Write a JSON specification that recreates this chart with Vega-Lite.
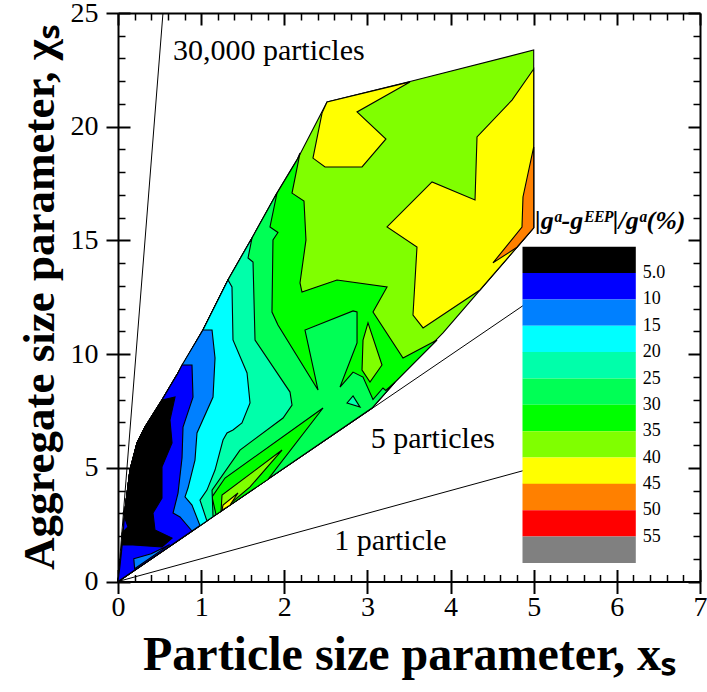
{
  "$schema": "https://vega.github.io/schema/vega-lite/v6.json",
  "width": 582,
  "height": 568.5,
  "autosize": {"type": "none"},
  "padding": {"left": 118, "top": 13, "right": 7, "bottom": 110.5},
  "background": "white",
  "config": {"view": {"stroke": null}, "font": "Liberation Serif"},
  "datasets": {
    "lines": [
      {"ln": "a", "x": 0, "y": 0}, {"ln": "a", "x": 0.541, "y": 25},
      {"ln": "b", "x": 0, "y": 0}, {"ln": "b", "x": 4.871, "y": 12.13},
      {"ln": "c", "x": 0, "y": 0}, {"ln": "c", "x": 4.871, "y": 4.871}
    ],
    "textA": [{"t": "30,000 particles", "x": 0.662, "y": 22.93}],
    "textB": [{"t": "5 particles", "x": 3.04, "y": 5.87}, {"t": "1 particle", "x": 2.6, "y": 1.385}],
    "legendTitle": [{"t": "|gᵃ-gᴱᴱᴾ|/gᵃ(%)", "x": 5.016, "y": 15.5}],
    "polysA": [
      {"p":"p01","v":35,"i":0,"x":0,"y":0},{"p":"p01","v":35,"i":1,"x":0.024,"y":0.68},{"p":"p01","v":35,"i":2,"x":0.048,"y":1.52},{"p":"p01","v":35,"i":3,"x":0.084,"y":3.14},{"p":"p01","v":35,"i":4,"x":0.144,"y":4.9},{"p":"p01","v":35,"i":5,"x":0.229,"y":6.09},{"p":"p01","v":35,"i":6,"x":0.325,"y":6.79},{"p":"p01","v":35,"i":7,"x":0.529,"y":7.98},{"p":"p01","v":35,"i":8,"x":0.722,"y":9.17},{"p":"p01","v":35,"i":9,"x":1.022,"y":11.06},{"p":"p01","v":35,"i":10,"x":1.323,"y":13.26},{"p":"p01","v":35,"i":11,"x":1.612,"y":15.11},{"p":"p01","v":35,"i":12,"x":1.912,"y":17.08},{"p":"p01","v":35,"i":13,"x":2.153,"y":18.54},{"p":"p01","v":35,"i":14,"x":2.514,"y":21.09},{"p":"p01","v":35,"i":15,"x":3.536,"y":22.01},{"p":"p01","v":35,"i":16,"x":5,"y":23.37},{"p":"p01","v":35,"i":17,"x":5,"y":15.55},{"p":"p01","v":35,"i":18,"x":3.909,"y":10.93},{"p":"p01","v":35,"i":19,"x":3.332,"y":8.77},{"p":"p01","v":35,"i":20,"x":3.055,"y":7.63},
      {"p":"p02","v":40,"i":0,"x":2.514,"y":21.09},{"p":"p02","v":40,"i":1,"x":3.512,"y":21.97},{"p":"p02","v":40,"i":2,"x":2.875,"y":20.65},{"p":"p02","v":40,"i":3,"x":3.223,"y":19.46},{"p":"p02","v":40,"i":4,"x":2.935,"y":18.23},{"p":"p02","v":40,"i":5,"x":2.49,"y":18.23},{"p":"p02","v":40,"i":6,"x":2.345,"y":18.62},{"p":"p02","v":40,"i":7,"x":2.454,"y":20.6},
      {"p":"p03","v":40,"i":0,"x":5,"y":22.54},{"p":"p03","v":40,"i":1,"x":4.739,"y":21.17},{"p":"p03","v":40,"i":2,"x":4.318,"y":19.55},{"p":"p03","v":40,"i":3,"x":4.294,"y":16.78},{"p":"p03","v":40,"i":4,"x":3.777,"y":17.57},{"p":"p03","v":40,"i":5,"x":3.236,"y":15.59},{"p":"p03","v":40,"i":6,"x":3.596,"y":14.71},{"p":"p03","v":40,"i":7,"x":3.548,"y":11.72},{"p":"p03","v":40,"i":8,"x":3.669,"y":11.15},{"p":"p03","v":40,"i":9,"x":4.354,"y":12.82},{"p":"p03","v":40,"i":10,"x":5,"y":15.55},
      {"p":"p04","v":45,"i":0,"x":5,"y":19.11},{"p":"p04","v":45,"i":1,"x":5,"y":15.55},{"p":"p04","v":45,"i":2,"x":4.799,"y":14.7},{"p":"p04","v":45,"i":3,"x":4.51,"y":14.01},{"p":"p04","v":45,"i":4,"x":4.859,"y":15.59},{"p":"p04","v":45,"i":5,"x":4.871,"y":16.91},
      {"p":"p05","v":30,"i":0,"x":0,"y":0},{"p":"p05","v":30,"i":1,"x":0.024,"y":0.68},{"p":"p05","v":30,"i":2,"x":0.048,"y":1.52},{"p":"p05","v":30,"i":3,"x":0.084,"y":3.14},{"p":"p05","v":30,"i":4,"x":0.144,"y":4.9},{"p":"p05","v":30,"i":5,"x":0.229,"y":6.09},{"p":"p05","v":30,"i":6,"x":0.325,"y":6.79},{"p":"p05","v":30,"i":7,"x":0.529,"y":7.98},{"p":"p05","v":30,"i":8,"x":0.722,"y":9.17},{"p":"p05","v":30,"i":9,"x":1.022,"y":11.06},{"p":"p05","v":30,"i":10,"x":1.323,"y":13.26},{"p":"p05","v":30,"i":11,"x":1.612,"y":15.11},{"p":"p05","v":30,"i":12,"x":1.912,"y":17.08},{"p":"p05","v":30,"i":13,"x":2.153,"y":18.54},{"p":"p05","v":30,"i":14,"x":2.189,"y":18.84},{"p":"p05","v":30,"i":15,"x":2.093,"y":17.08},{"p":"p05","v":30,"i":16,"x":2.237,"y":16.73},{"p":"p05","v":30,"i":17,"x":2.261,"y":15.02},{"p":"p05","v":30,"i":18,"x":2.189,"y":13.13},{"p":"p05","v":30,"i":19,"x":2.213,"y":12.73},{"p":"p05","v":30,"i":20,"x":2.634,"y":13.26},{"p":"p05","v":30,"i":21,"x":3.236,"y":12.95},{"p":"p05","v":30,"i":22,"x":3.067,"y":11.85},{"p":"p05","v":30,"i":23,"x":3.428,"y":9.83},{"p":"p05","v":30,"i":24,"x":3.837,"y":10.62},{"p":"p05","v":30,"i":25,"x":3.332,"y":8.77},{"p":"p05","v":30,"i":26,"x":3.055,"y":7.63},
      {"p":"p06","v":35,"i":0,"x":3.007,"y":11.37},{"p":"p06","v":35,"i":1,"x":3.175,"y":9.52},{"p":"p06","v":35,"i":2,"x":3.031,"y":8.77},{"p":"p06","v":35,"i":3,"x":2.935,"y":9.3},{"p":"p06","v":35,"i":4,"x":2.947,"y":10.62},
      {"p":"p07","v":25,"i":0,"x":0,"y":0},{"p":"p07","v":25,"i":1,"x":0.024,"y":0.68},{"p":"p07","v":25,"i":2,"x":0.048,"y":1.52},{"p":"p07","v":25,"i":3,"x":0.084,"y":3.14},{"p":"p07","v":25,"i":4,"x":0.144,"y":4.9},{"p":"p07","v":25,"i":5,"x":0.229,"y":6.09},{"p":"p07","v":25,"i":6,"x":0.325,"y":6.79},{"p":"p07","v":25,"i":7,"x":0.529,"y":7.98},{"p":"p07","v":25,"i":8,"x":0.722,"y":9.17},{"p":"p07","v":25,"i":9,"x":1.022,"y":11.06},{"p":"p07","v":25,"i":10,"x":1.323,"y":13.26},{"p":"p07","v":25,"i":11,"x":1.612,"y":15.11},{"p":"p07","v":25,"i":12,"x":1.912,"y":17.08},{"p":"p07","v":25,"i":13,"x":1.828,"y":15.59},{"p":"p07","v":25,"i":14,"x":1.924,"y":15.35},{"p":"p07","v":25,"i":15,"x":1.864,"y":15.02},{"p":"p07","v":25,"i":16,"x":1.852,"y":11.85},{"p":"p07","v":25,"i":17,"x":1.924,"y":11.28},{"p":"p07","v":25,"i":18,"x":2.406,"y":8.42},{"p":"p07","v":25,"i":19,"x":2.249,"y":11.06},{"p":"p07","v":25,"i":20,"x":2.827,"y":11.9},{"p":"p07","v":25,"i":21,"x":2.875,"y":11.85},{"p":"p07","v":25,"i":22,"x":2.875,"y":10.49},{"p":"p07","v":25,"i":23,"x":2.67,"y":8.55},{"p":"p07","v":25,"i":24,"x":2.827,"y":9.21},{"p":"p07","v":25,"i":25,"x":2.947,"y":8.99},{"p":"p07","v":25,"i":26,"x":3.067,"y":8.0},{"p":"p07","v":25,"i":27,"x":3.187,"y":8.51},{"p":"p07","v":25,"i":28,"x":3.22,"y":8.4},{"p":"p07","v":25,"i":29,"x":3.332,"y":8.77},{"p":"p07","v":25,"i":30,"x":3.055,"y":7.63},
      {"p":"p08","v":20,"i":0,"x":2.754,"y":7.85},{"p":"p08","v":20,"i":1,"x":2.827,"y":8.16},{"p":"p08","v":20,"i":2,"x":2.911,"y":7.67}
    ],
    "polysB": [
      {"p":"p09","v":30,"i":0,"x":2.466,"y":7.63},{"p":"p09","v":30,"i":1,"x":1.287,"y":4.55},{"p":"p09","v":30,"i":2,"x":1.131,"y":3.72},{"p":"p09","v":30,"i":3,"x":1.179,"y":2.94},{"p":"p09","v":30,"i":4,"x":1.804,"y":4.49},
      {"p":"p10","v":35,"i":0,"x":1.973,"y":5.78},{"p":"p10","v":35,"i":1,"x":1.251,"y":3.8},{"p":"p10","v":35,"i":2,"x":1.239,"y":3.08},{"p":"p10","v":35,"i":3,"x":1.588,"y":4.16},
      {"p":"p11","v":40,"i":0,"x":1.443,"y":3.89},{"p":"p11","v":40,"i":1,"x":1.263,"y":3.36},{"p":"p11","v":40,"i":2,"x":1.251,"y":3.14},{"p":"p11","v":40,"i":3,"x":1.347,"y":3.36},
      {"p":"p12","v":20,"i":0,"x":0,"y":0},{"p":"p12","v":20,"i":1,"x":0.024,"y":0.68},{"p":"p12","v":20,"i":2,"x":0.048,"y":1.52},{"p":"p12","v":20,"i":3,"x":0.084,"y":3.14},{"p":"p12","v":20,"i":4,"x":0.144,"y":4.9},{"p":"p12","v":20,"i":5,"x":0.229,"y":6.09},{"p":"p12","v":20,"i":6,"x":0.325,"y":6.79},{"p":"p12","v":20,"i":7,"x":0.529,"y":7.98},{"p":"p12","v":20,"i":8,"x":0.722,"y":9.17},{"p":"p12","v":20,"i":9,"x":1.022,"y":11.06},{"p":"p12","v":20,"i":10,"x":1.323,"y":13.26},{"p":"p12","v":20,"i":11,"x":1.612,"y":15.11},{"p":"p12","v":20,"i":12,"x":1.564,"y":14.23},{"p":"p12","v":20,"i":13,"x":1.624,"y":14.05},{"p":"p12","v":20,"i":14,"x":1.648,"y":10.62},{"p":"p12","v":20,"i":15,"x":2.069,"y":8.33},{"p":"p12","v":20,"i":16,"x":2.093,"y":7.76},{"p":"p12","v":20,"i":17,"x":1.985,"y":7.19},{"p":"p12","v":20,"i":18,"x":1.467,"y":5.78},{"p":"p12","v":20,"i":19,"x":1.131,"y":4.02},{"p":"p12","v":20,"i":20,"x":1.143,"y":2.85},
      {"p":"p13","v":15,"i":0,"x":0,"y":0},{"p":"p13","v":15,"i":1,"x":0.024,"y":0.68},{"p":"p13","v":15,"i":2,"x":0.048,"y":1.52},{"p":"p13","v":15,"i":3,"x":0.084,"y":3.14},{"p":"p13","v":15,"i":4,"x":0.144,"y":4.9},{"p":"p13","v":15,"i":5,"x":0.229,"y":6.09},{"p":"p13","v":15,"i":6,"x":0.325,"y":6.79},{"p":"p13","v":15,"i":7,"x":0.529,"y":7.98},{"p":"p13","v":15,"i":8,"x":0.722,"y":9.17},{"p":"p13","v":15,"i":9,"x":1.022,"y":11.06},{"p":"p13","v":15,"i":10,"x":1.323,"y":13.26},{"p":"p13","v":15,"i":11,"x":1.371,"y":12.95},{"p":"p13","v":15,"i":12,"x":1.383,"y":10.62},{"p":"p13","v":15,"i":13,"x":1.552,"y":9.17},{"p":"p13","v":15,"i":14,"x":1.588,"y":7.85},{"p":"p13","v":15,"i":15,"x":1.491,"y":6.97},{"p":"p13","v":15,"i":16,"x":1.383,"y":6.66},{"p":"p13","v":15,"i":17,"x":1.311,"y":6.53},{"p":"p13","v":15,"i":18,"x":1.263,"y":6.22},{"p":"p13","v":15,"i":19,"x":1.167,"y":4.9},{"p":"p13","v":15,"i":20,"x":1.07,"y":4.02},{"p":"p13","v":15,"i":21,"x":0.986,"y":3.58},{"p":"p13","v":15,"i":22,"x":1.07,"y":2.66},
      {"p":"p14","v":10,"i":0,"x":0,"y":0},{"p":"p14","v":10,"i":1,"x":0.024,"y":0.68},{"p":"p14","v":10,"i":2,"x":0.048,"y":1.52},{"p":"p14","v":10,"i":3,"x":0.084,"y":3.14},{"p":"p14","v":10,"i":4,"x":0.144,"y":4.9},{"p":"p14","v":10,"i":5,"x":0.229,"y":6.09},{"p":"p14","v":10,"i":6,"x":0.325,"y":6.79},{"p":"p14","v":10,"i":7,"x":0.529,"y":7.98},{"p":"p14","v":10,"i":8,"x":0.722,"y":9.17},{"p":"p14","v":10,"i":9,"x":0.77,"y":9.52},{"p":"p14","v":10,"i":10,"x":1.022,"y":11.06},{"p":"p14","v":10,"i":11,"x":1.131,"y":11.06},{"p":"p14","v":10,"i":12,"x":1.167,"y":9.83},{"p":"p14","v":10,"i":13,"x":1.143,"y":8.11},{"p":"p14","v":10,"i":14,"x":0.95,"y":6.53},{"p":"p14","v":10,"i":15,"x":0.926,"y":5.34},{"p":"p14","v":10,"i":16,"x":0.842,"y":4.11},{"p":"p14","v":10,"i":17,"x":0.806,"y":3.72},{"p":"p14","v":10,"i":18,"x":0.89,"y":3.36},{"p":"p14","v":10,"i":19,"x":0.986,"y":2.46},
      {"p":"p15","v":5,"i":0,"x":0,"y":0},{"p":"p15","v":5,"i":1,"x":0.024,"y":0.68},{"p":"p15","v":5,"i":2,"x":0.048,"y":1.52},{"p":"p15","v":5,"i":3,"x":0.084,"y":3.14},{"p":"p15","v":5,"i":4,"x":0.144,"y":4.9},{"p":"p15","v":5,"i":5,"x":0.229,"y":6.09},{"p":"p15","v":5,"i":6,"x":0.325,"y":6.79},{"p":"p15","v":5,"i":7,"x":0.529,"y":7.98},{"p":"p15","v":5,"i":8,"x":0.722,"y":9.17},{"p":"p15","v":5,"i":9,"x":0.77,"y":9.52},{"p":"p15","v":5,"i":10,"x":0.89,"y":9.52},{"p":"p15","v":5,"i":11,"x":0.902,"y":8.11},{"p":"p15","v":5,"i":12,"x":0.782,"y":6.79},{"p":"p15","v":5,"i":13,"x":0.77,"y":5.43},{"p":"p15","v":5,"i":14,"x":0.722,"y":3.89},{"p":"p15","v":5,"i":15,"x":0.662,"y":3.01},{"p":"p15","v":5,"i":16,"x":0.746,"y":2.84},{"p":"p15","v":5,"i":17,"x":0.89,"y":2.22},
      {"p":"p16","v":0,"i":0,"x":0.529,"y":7.98},{"p":"p16","v":0,"i":1,"x":0.686,"y":8.11},{"p":"p16","v":0,"i":2,"x":0.625,"y":7.1},{"p":"p16","v":0,"i":3,"x":0.65,"y":6.09},{"p":"p16","v":0,"i":4,"x":0.529,"y":5.04},{"p":"p16","v":0,"i":5,"x":0.529,"y":3.67},{"p":"p16","v":0,"i":6,"x":0.421,"y":3.01},{"p":"p16","v":0,"i":7,"x":0.445,"y":2.26},{"p":"p16","v":0,"i":8,"x":0.65,"y":1.91},{"p":"p16","v":0,"i":9,"x":0.529,"y":1.52},{"p":"p16","v":0,"i":10,"x":0.18,"y":1.61},{"p":"p16","v":0,"i":11,"x":0.048,"y":1.61},{"p":"p16","v":0,"i":12,"x":0.048,"y":2.13},{"p":"p16","v":0,"i":13,"x":0.12,"y":2.4},{"p":"p16","v":0,"i":14,"x":0.06,"y":3.01},{"p":"p16","v":0,"i":15,"x":0.084,"y":3.14},{"p":"p16","v":0,"i":16,"x":0.144,"y":4.9},{"p":"p16","v":0,"i":17,"x":0.229,"y":6.09},{"p":"p16","v":0,"i":18,"x":0.325,"y":6.79},
      {"p":"p17","v":10,"i":0,"x":0.19,"y":1.0},{"p":"p17","v":10,"i":1,"x":0.4,"y":1.22},{"p":"p17","v":10,"i":2,"x":0.62,"y":1.62},{"p":"p17","v":10,"i":3,"x":0.2,"y":0.56}
    ]
  },
  "layer": [
    {
      "data": {"name": "lines"},
      "mark": {"type": "line", "stroke": "black", "strokeWidth": 1},
      "encoding": {
        "x": {"field": "x", "type": "quantitative", "scale": {"domain": [0, 7], "nice": false, "zero": false},
          "axis": {"orient": "bottom", "values": [0,1,2,3,4,5,6,7], "format": "d", "tickSize": 12, "tickWidth": 2, "tickColor": "black", "domain": true, "domainColor": "black", "domainWidth": 2, "grid": false, "labelFont": "Liberation Serif", "labelFontSize": 28, "labelColor": "black", "labelPadding": 0, "labelFlush": false, "labelOverlap": false, "title": "Particle size parameter, xₛ", "titleFont": "Liberation Serif", "titleFontSize": 48, "titleFontWeight": "bold", "titleColor": "black", "titlePadding": 10}},
        "y": {"field": "y", "type": "quantitative", "scale": {"domain": [0, 25], "nice": false, "zero": false},
          "axis": {"orient": "left", "values": [0,5,10,15,20,25], "format": "d", "tickSize": 12, "tickWidth": 2, "tickColor": "black", "domain": true, "domainColor": "black", "domainWidth": 2, "grid": false, "labelFont": "Liberation Serif", "labelFontSize": 28, "labelColor": "black", "labelPadding": 8, "labelFlush": false, "labelOverlap": false, "title": "Aggregate size parameter, χₛ", "titleFont": "Liberation Serif", "titleFontSize": 45, "titleFontWeight": "bold", "titleColor": "black", "titlePadding": 8}},
        "detail": {"field": "ln", "type": "nominal"}
      }
    },
    {
      "data": {"name": "polysA"},
      "mark": {"type": "line", "interpolate": "linear-closed", "stroke": "black", "strokeWidth": 1.1},
      "encoding": {
        "x": {"field": "x", "type": "quantitative", "scale": {"domain": [0, 7], "nice": false, "zero": false},
          "axis": {"orient": "bottom", "values": [0,1,2,3,4,5,6,7], "tickSize": -12, "tickWidth": 2, "tickColor": "black", "domain": false, "labels": false, "grid": false, "title": null}},
        "y": {"field": "y", "type": "quantitative", "scale": {"domain": [0, 25], "nice": false, "zero": false},
          "axis": {"orient": "left", "values": [0,5,10,15,20,25], "tickSize": -12, "tickWidth": 2, "tickColor": "black", "domain": false, "labels": false, "grid": false, "title": null}},
        "fill": {"field": "v", "type": "ordinal",
          "scale": {"domain": [0,5,10,15,20,25,30,35,40,45,50,55], "range": ["#000000","#0000FF","#0080FF","#00FFFF","#00FFAA","#00FF55","#00FF00","#80FF00","#FFFF00","#FF8000","#FF0000","#808080"]},
          "legend": {"orient": "none", "legendX": 405, "legendY": 247.6, "direction": "vertical", "padding": 0, "offset": 0,
            "title": null,
            "symbolType": "M-4.532,-2.112H4.532V0H-4.532Z", "symbolSize": 625, "symbolStrokeWidth": 0, "symbolOffset": 43.65, "symbolOpacity": 1,
            "rowPadding": -9.65,
            "labelFont": "Liberation Serif", "labelFontSize": 18, "labelColor": "black", "labelOffset": 51, "labelBaseline": "middle",
            "labelExpr": "datum.value == 0 ? '5.0' : (datum.value == 55 ? '' : '' + (datum.value + 5))",
            "encode": {"symbols": {"strokeWidth": {"value": 0}, "stroke": {"value": "transparent"}}}}},
        "detail": {"field": "p", "type": "nominal"},
        "order": {"field": "i", "type": "quantitative"}
      }
    },
    {
      "data": {"name": "polysB"},
      "mark": {"type": "line", "interpolate": "linear-closed", "stroke": "black", "strokeWidth": 1.1},
      "encoding": {
        "x": {"field": "x", "type": "quantitative", "scale": {"domain": [0, 7], "nice": false, "zero": false},
          "axis": {"orient": "top", "values": [0,1,2,3,4,5,6,7], "tickSize": -12, "tickWidth": 2, "tickColor": "black", "domain": true, "domainColor": "black", "domainWidth": 2, "labels": false, "grid": false, "title": null}},
        "y": {"field": "y", "type": "quantitative", "scale": {"domain": [0, 25], "nice": false, "zero": false},
          "axis": {"orient": "right", "values": [0,5,10,15,20,25], "tickSize": -12, "tickWidth": 2, "tickColor": "black", "domain": true, "domainColor": "black", "domainWidth": 2, "labels": false, "grid": false, "title": null}},
        "fill": {"field": "v", "type": "ordinal",
          "scale": {"domain": [0,5,10,15,20,25,30,35,40,45,50,55], "range": ["#000000","#0000FF","#0080FF","#00FFFF","#00FFAA","#00FF55","#00FF00","#80FF00","#FFFF00","#FF8000","#FF0000","#808080"]},
          "legend": {"orient": "none", "legendX": 405, "legendY": 247.6, "direction": "vertical", "padding": 0, "offset": 0,
            "title": null,
            "symbolType": "M-4.532,-2.112H4.532V0H-4.532Z", "symbolSize": 625, "symbolStrokeWidth": 0, "symbolOffset": 43.65, "symbolOpacity": 1,
            "rowPadding": -9.65,
            "labelFont": "Liberation Serif", "labelFontSize": 18, "labelColor": "black", "labelOffset": 51, "labelBaseline": "middle",
            "labelExpr": "datum.value == 0 ? '5.0' : (datum.value == 55 ? '' : '' + (datum.value + 5))",
            "encode": {"symbols": {"strokeWidth": {"value": 0}, "stroke": {"value": "transparent"}}}}},
        "detail": {"field": "p", "type": "nominal"},
        "order": {"field": "i", "type": "quantitative"}
      }
    },
    {
      "data": {"name": "textA"},
      "mark": {"type": "text", "font": "Liberation Serif", "fontSize": 30, "align": "left", "baseline": "alphabetic", "color": "black"},
      "encoding": {
        "x": {"field": "x", "type": "quantitative", "scale": {"domain": [0, 7], "nice": false, "zero": false},
          "axis": {"orient": "bottom", "values": [0.2,0.4,0.6,0.8,1.2,1.4,1.6,1.8,2.2,2.4,2.6,2.8,3.2,3.4,3.6,3.8,4.2,4.4,4.6,4.8,5.2,5.4,5.6,5.8,6.2,6.4,6.6,6.8], "tickSize": -7, "tickWidth": 1.5, "tickColor": "black", "domain": false, "labels": false, "grid": false, "title": null}},
        "y": {"field": "y", "type": "quantitative", "scale": {"domain": [0, 25], "nice": false, "zero": false},
          "axis": {"orient": "left", "values": [1,2,3,4,6,7,8,9,11,12,13,14,16,17,18,19,21,22,23,24], "tickSize": -7, "tickWidth": 1.5, "tickColor": "black", "domain": false, "labels": false, "grid": false, "title": null}},
        "text": {"field": "t", "type": "nominal"}
      }
    },
    {
      "data": {"name": "textB"},
      "mark": {"type": "text", "font": "Liberation Serif", "fontSize": 30, "align": "left", "baseline": "alphabetic", "color": "black"},
      "encoding": {
        "x": {"field": "x", "type": "quantitative", "scale": {"domain": [0, 7], "nice": false, "zero": false},
          "axis": {"orient": "top", "values": [0.2,0.4,0.6,0.8,1.2,1.4,1.6,1.8,2.2,2.4,2.6,2.8,3.2,3.4,3.6,3.8,4.2,4.4,4.6,4.8,5.2,5.4,5.6,5.8,6.2,6.4,6.6,6.8], "tickSize": -7, "tickWidth": 1.5, "tickColor": "black", "domain": false, "labels": false, "grid": false, "title": null}},
        "y": {"field": "y", "type": "quantitative", "scale": {"domain": [0, 25], "nice": false, "zero": false},
          "axis": {"orient": "right", "values": [1,2,3,4,6,7,8,9,11,12,13,14,16,17,18,19,21,22,23,24], "tickSize": -7, "tickWidth": 1.5, "tickColor": "black", "domain": false, "labels": false, "grid": false, "title": null}},
        "text": {"field": "t", "type": "nominal"}
      }
    },
    {
      "data": {"name": "legendTitle"},
      "mark": {"type": "text", "font": "Liberation Serif", "fontSize": 26, "fontStyle": "italic", "fontWeight": "bold", "align": "left", "baseline": "alphabetic", "color": "black"},
      "encoding": {
        "x": {"field": "x", "type": "quantitative", "scale": {"domain": [0, 7], "nice": false, "zero": false}, "axis": null},
        "y": {"field": "y", "type": "quantitative", "scale": {"domain": [0, 25], "nice": false, "zero": false}, "axis": null},
        "text": {"field": "t", "type": "nominal"}
      }
    }
  ],
  "resolve": {"axis": {"x": "independent", "y": "independent"}}
}
